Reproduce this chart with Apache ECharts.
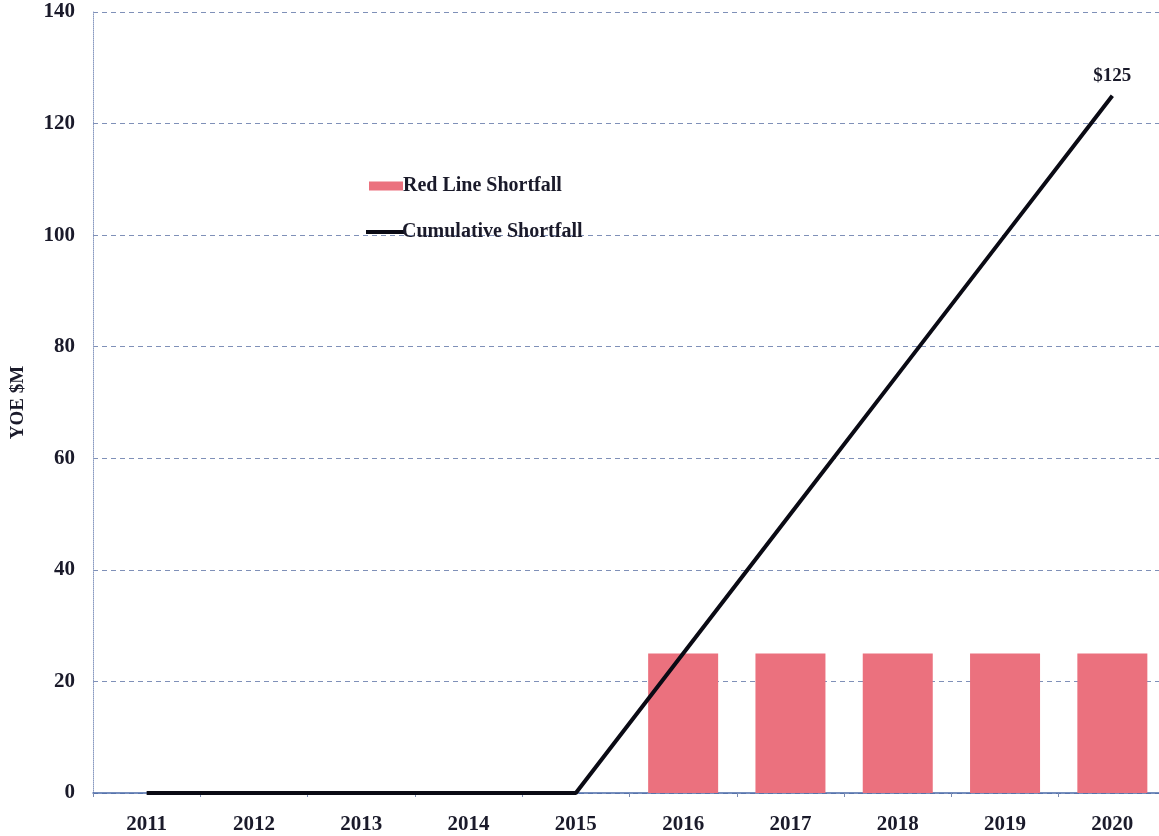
<!DOCTYPE html>
<html>
<head>
<meta charset="utf-8">
<script src="https://cdn.jsdelivr.net/npm/echarts@6/dist/echarts.min.js"></script>
<style>
html,body{margin:0;padding:0;background:#fff;}
#c{width:1159px;height:836px;}
</style>
</head>
<body>
<div id="c"></div>
<script>
const years = ['2011','2012','2013','2014','2015','2016','2017','2018','2019','2020'];
const redLineShortfall = [0,0,0,0,0,25,25,25,25,25];
const cumulativeShortfall = [0,0,0,0,0,25,50,75,100,125];
const yTicks = {min:0, max:140, interval:20};
const endLabel = '$125';

const font = '"Liberation Serif","Times New Roman",serif';
const chart = echarts.init(document.getElementById('c'));
chart.setOption({
  animation:false,
  backgroundColor:'#fff',
  grid:{left:93, width:1073, top:12, bottom:43, containLabel:false, outerBoundsMode:'none'},
  legend:[
    {
      left:364, top:171, itemWidth:34, itemHeight:9,
      textStyle:{fontFamily:font, fontWeight:'bold', fontSize:20, color:'#1a1a2a', padding:[0,0,0,-5]},
      data:[{name:'Red Line Shortfall', icon:'rect'}]
    },
    {
      left:361, top:217, itemWidth:39, itemHeight:4,
      textStyle:{fontFamily:font, fontWeight:'bold', fontSize:20, color:'#1a1a2a', padding:[0,0,0,-8]},
      data:[{name:'Cumulative Shortfall', icon:'rect', itemStyle:{color:'#0a0a14'}}]
    }
  ],
  xAxis:{
    type:'category', data:years,
    axisLine:{show:true, lineStyle:{color:'#4a6aa8', width:1.5}},
    axisTick:{show:true, alignWithLabel:false, length:4, lineStyle:{color:'#7a8ab0'}},
    axisLabel:{fontFamily:font, fontWeight:'bold', fontSize:21, color:'#1a1a2a', margin:21}
  },
  yAxis:{
    type:'value', min:yTicks.min, max:yTicks.max, interval:yTicks.interval,
    name:'YOE $M', nameLocation:'middle', nameGap:65, nameRotate:90,
    nameTextStyle:{fontFamily:font, fontWeight:'bold', fontSize:19, color:'#1a1a2a'},
    axisLine:{show:true, lineStyle:{color:'#8a9ac0', type:'dotted', width:1}},
    axisTick:{show:false},
    axisLabel:{fontFamily:font, fontWeight:'bold', fontSize:21, color:'#1a1a2a', margin:18},
    splitLine:{show:true, lineStyle:{color:'#7f90b8', type:[5,4], width:1}}
  },
  series:[
    {
      name:'Red Line Shortfall', type:'bar', data:redLineShortfall,
      barWidth:70,
      itemStyle:{color:'#eb717e'}
    },
    {
      name:'Cumulative Shortfall', type:'line', data:cumulativeShortfall,
      symbol:'none', z:5,
      lineStyle:{color:'#0a0a14', width:4},
      itemStyle:{color:'#0a0a14'},
      markPoint:{
        symbol:'circle', symbolSize:0,
        label:{show:true, position:'top', distance:10, formatter:endLabel,
          fontFamily:font, fontWeight:'bold', fontSize:19, color:'#1a1a2a'},
        data:[{coord:[years.length-1, cumulativeShortfall[cumulativeShortfall.length-1]]}]
      }
    }
  ]
});
</script>
</body>
</html>
